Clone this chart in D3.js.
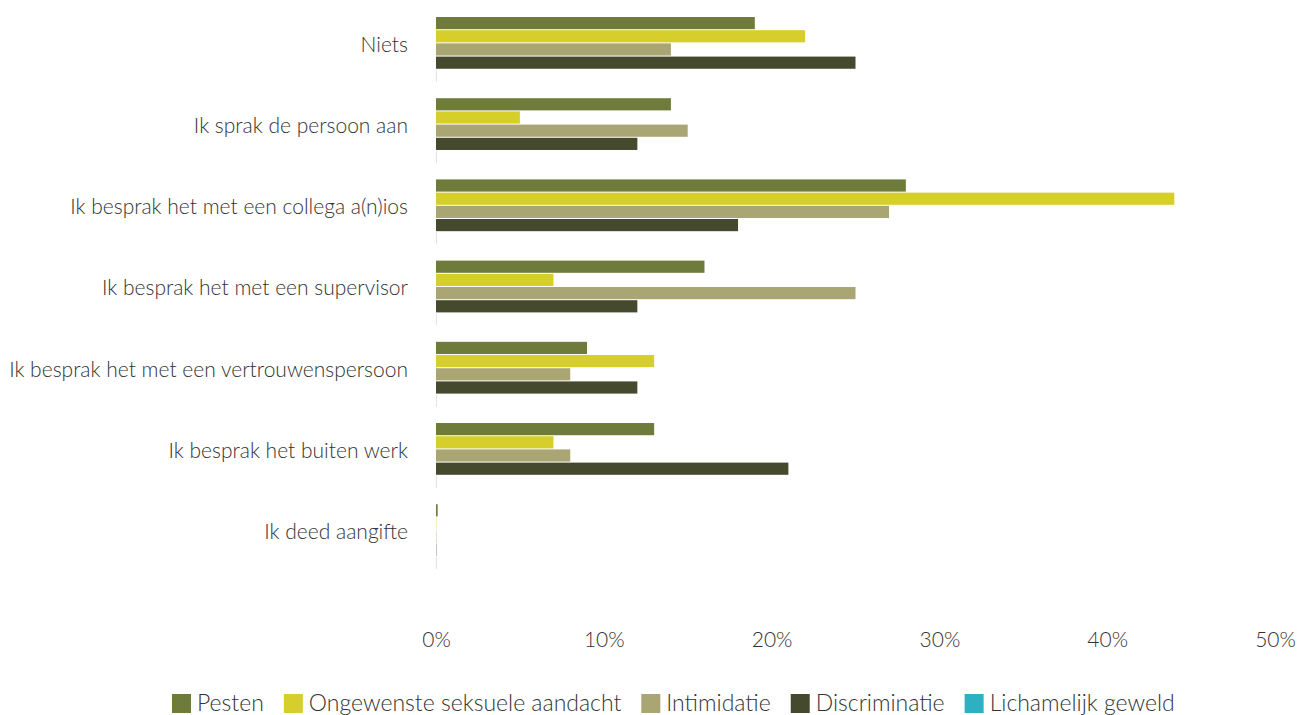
<!DOCTYPE html>
<html>
<head>
<meta charset="utf-8">
<script src="https://cdn.jsdelivr.net/npm/d3@7"></script>
<style>
  html, body { margin: 0; padding: 0; background: #fff; }
  svg { display: block; }
  text { font-family: Lato, "Open Sans", sans-serif; font-weight: 300; fill: #333; }
</style>
</head>
<body>
<svg id="chart" width="1299" height="715"></svg>
<script>
// Reactions to undesirable behaviour at work, share of respondents per type of behaviour
const categories = [
  "Niets",
  "Ik sprak de persoon aan",
  "Ik besprak het met een collega a(n)ios",
  "Ik besprak het met een supervisor",
  "Ik besprak het met een vertrouwenspersoon",
  "Ik besprak het buiten werk",
  "Ik deed aangifte"
];
const seriesNames = ["Pesten", "Ongewenste seksuele aandacht", "Intimidatie", "Discriminatie", "Lichamelijk geweld"];
const pesten        = [19, 14, 28, 16,  9, 13, 0.1];
const ongewenst     = [22,  5, 44,  7, 13,  7, 0];
const intimidatie   = [14, 15, 27, 25,  8,  8, 0];
const discriminatie = [25, 12, 18, 12, 12, 21, 0];
const geweld        = [ 0,  0,  0,  0,  0,  0, 0];
const xTicks = [0, 0.1, 0.2, 0.3, 0.4, 0.5];

const seriesValues = [pesten, ongewenst, intimidatie, discriminatie, geweld];
const colors = ["#6e7b3a", "#d6ce2b", "#aaa673", "#454a2e", "#2bb1bf"];
// thin marker drawn where a value is zero
const zeroColors = ["#c9cdb8", "#f4f0c0", "#e2e0cf", "#c4c6bc", "#f5dbe4"];

const svg = d3.select("#chart");

const x = d3.scaleLinear().domain([0, 0.5]).range([436, 1275]);
const y = d3.scaleBand().domain(categories).range([17, 569.2]).paddingInner(0.2).paddingOuter(0);
const ySub = d3.scaleBand().domain(seriesNames).range([0, y.bandwidth()]).paddingInner(0.077);

const rows = categories.map((c, i) => ({
  category: c,
  values: seriesNames.map((s, j) => ({ series: s, idx: j, value: seriesValues[j][i] / 100 }))
}));

const groups = svg.append("g").selectAll("g")
  .data(rows).join("g")
  .attr("transform", d => `translate(0,${y(d.category)})`);

groups.selectAll("rect")
  .data(d => d.values).join("rect")
  .attr("x", x(0))
  .attr("y", d => ySub(d.series))
  .attr("height", ySub.bandwidth())
  .attr("width", d => d.value > 0 ? Math.max(1.5, x(d.value) - x(0)) : 1)
  .attr("fill", d => d.value > 0 ? colors[d.idx] : zeroColors[d.idx]);

// category labels
svg.append("g").selectAll("text")
  .data(categories).join("text")
  .attr("x", 408)
  .attr("y", d => y(d) + 27.5)
  .attr("dy", "0.35em")
  .attr("text-anchor", "end")
  .style("font-size", "21px")
  .text(d => d);

// x axis tick labels
const xAxis = d3.axisBottom(x).tickValues(xTicks).tickFormat(d3.format(".0%")).tickSize(0).tickPadding(0);
const ax = svg.append("g").attr("transform", "translate(0,632)").call(xAxis);
ax.select(".domain").remove();
ax.selectAll("text")
  .attr("fill", "#333")
  .style("font-family", "Lato, 'Open Sans', sans-serif")
  .style("font-size", "21px");

// legend
const legend = svg.append("g").attr("transform", "translate(172,694)");
let lx = 0;
seriesNames.forEach((s, i) => {
  const g = legend.append("g").attr("transform", `translate(${lx},0)`);
  g.append("rect").attr("width", 19).attr("height", 19).attr("fill", colors[i]);
  const t = g.append("text").attr("x", 25).attr("y", 9).attr("dy", "0.36em")
    .style("font-size", "23px").text(s);
  lx += 25 + t.node().getComputedTextLength() + 20;
});
</script>
</body>
</html>
